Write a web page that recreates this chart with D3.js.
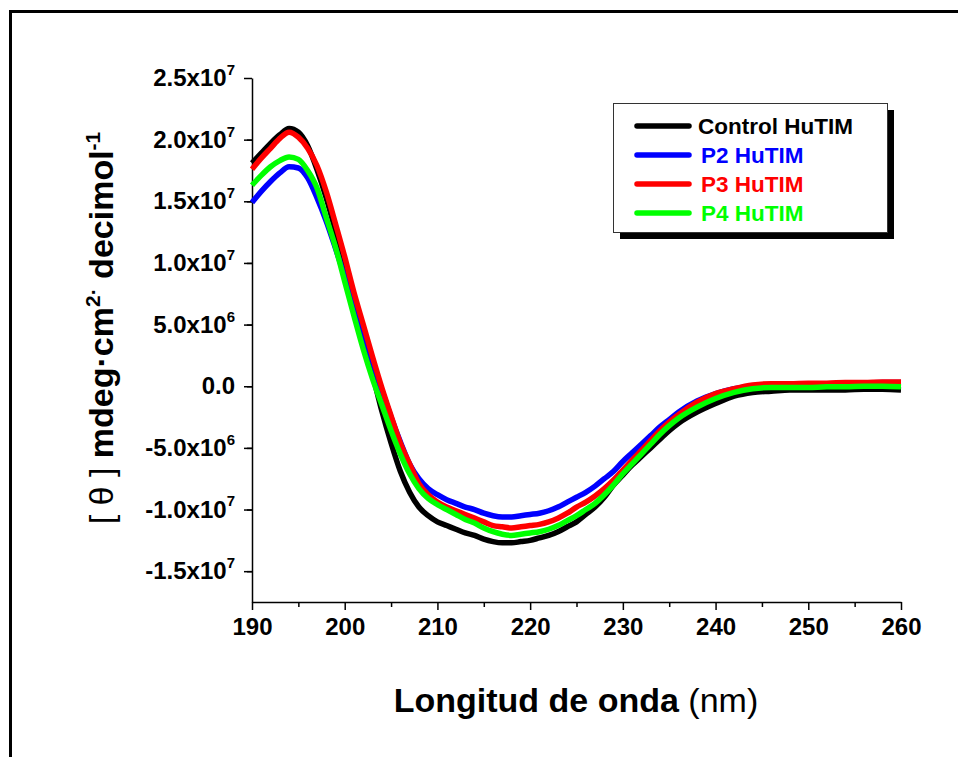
<!DOCTYPE html>
<html>
<head>
<meta charset="utf-8">
<script src="https://cdn.jsdelivr.net/npm/d3@7"></script>
<style>
  body { margin: 0; background: #fff; }
  svg { display: block; font-family: "Liberation Sans", Arial, sans-serif; }
</style>
</head>
<body>
<div id="chart"></div>
<script>
// wavelength (nm) and ellipticity in units of 1e6 mdeg·cm²·decimol⁻¹
var wavelength = [190,191,192,193,194,195,196,197,198,199,200,201,202,203,204,205,206,207,208,209,
  210,211,212,213,214,215,216,217,218,219,220,221,222,223,224,225,226,227,228,229,
  230,231,232,233,234,235,236,238,240,242,244,246,248,250,252,254,256,258,260];

var control = [18.1,18.9,19.7,20.4,20.9,20.6,19.5,17.6,15.3,12.6,9.7,6.8,3.9,1.0,-2.0,-4.6,-6.9,-8.6,-9.8,-10.5,
  -11.0,-11.3,-11.6,-11.9,-12.1,-12.4,-12.6,-12.7,-12.7,-12.6,-12.5,-12.3,-12.1,-11.8,-11.4,-11.0,-10.4,-9.8,-9.0,-8.0,
  -7.2,-6.4,-5.7,-5.0,-4.3,-3.6,-3.0,-2.1,-1.4,-0.8,-0.5,-0.4,-0.3,-0.3,-0.3,-0.3,-0.25,-0.25,-0.3];

var p2 = [14.9,15.8,16.6,17.3,17.8,17.7,16.9,15.3,13.4,11.2,8.9,6.6,4.3,2.0,-0.3,-2.5,-4.5,-6.3,-7.5,-8.3,
  -8.8,-9.2,-9.5,-9.8,-10.0,-10.3,-10.5,-10.6,-10.6,-10.5,-10.4,-10.3,-10.1,-9.8,-9.4,-9.0,-8.6,-8.1,-7.5,-6.9,
  -6.1,-5.4,-4.7,-4.0,-3.3,-2.7,-2.1,-1.2,-0.6,-0.2,0.0,0.1,0.15,0.2,0.2,0.2,0.25,0.3,0.3];

var p3 = [17.6,18.5,19.3,20.1,20.6,20.2,19.3,17.9,15.8,13.2,10.5,7.6,5.0,2.4,-0.1,-2.4,-4.6,-6.3,-7.9,-8.8,
  -9.4,-9.8,-10.1,-10.4,-10.7,-11.0,-11.3,-11.4,-11.5,-11.4,-11.3,-11.2,-11.0,-10.7,-10.3,-9.8,-9.4,-8.9,-8.3,-7.6,
  -6.8,-6.0,-5.2,-4.4,-3.6,-2.9,-2.3,-1.3,-0.6,-0.2,0.1,0.2,0.2,0.25,0.25,0.3,0.3,0.35,0.35];

var p4 = [16.3,17.1,17.8,18.3,18.6,18.4,17.5,16.1,13.7,11.3,8.5,5.7,3.0,0.6,-1.5,-3.6,-5.5,-7.1,-8.3,-9.1,
  -9.6,-10.0,-10.4,-10.8,-11.1,-11.5,-11.8,-12.0,-12.1,-12.0,-11.9,-11.8,-11.6,-11.3,-10.9,-10.5,-10.0,-9.5,-8.8,-8.0,
  -7.1,-6.3,-5.5,-4.7,-3.9,-3.2,-2.6,-1.7,-1.0,-0.5,-0.2,-0.1,-0.1,-0.1,-0.05,-0.05,0,0,-0.05];

var seriesNames = ["Control HuTIM","P2 HuTIM","P3 HuTIM","P4 HuTIM"];
var seriesColors = ["#000000","#0000ff","#ff0000","#00ff00"];
var seriesValues = [control, p2, p3, p4];

var xTicks = [190,200,210,220,230,240,250,260];
var yTicks = [-15,-10,-5,0,5,10,15,20,25];
var yTickMantissa = ["-1.5x10","-1.0x10","-5.0x10","0.0","5.0x10","1.0x10","1.5x10","2.0x10","2.5x10"];
var yTickExponent = ["7","7","6","","6","7","7","7","7"];

var W = 958, H = 757;
var svg = d3.select("#chart").append("svg").attr("width", W).attr("height", H);

svg.append("rect").attr("width", W).attr("height", H).attr("fill", "#fff");
// outer frame (open to the right and bottom)
svg.append("rect")
  .attr("x", 10.5).attr("y", 11.5).attr("width", 1000).attr("height", 900)
  .attr("fill", "none").attr("stroke", "#000").attr("stroke-width", 3);

var x = d3.scaleLinear().domain([190, 260]).range([252, 901]);
var y = d3.scaleLinear().domain([-17.5, 25]).range([602, 78]);

// minor ticks
svg.append("g").attr("transform", "translate(0,602)")
  .call(d3.axisBottom(x).tickValues(d3.range(195, 260, 10)).tickSize(5).tickFormat(""))
  .call(function(g){ g.select(".domain").remove(); g.selectAll("line").attr("stroke-width", 1.5); });
svg.append("g").attr("transform", "translate(252,0)")
  .call(d3.axisLeft(y).tickValues(d3.range(-17.5, 25, 5).map(function(v){ return v + 2.5; }).filter(function(v){ return v < 25; })).tickSize(5).tickFormat(""))
  .call(function(g){ g.select(".domain").remove(); g.selectAll("line").attr("stroke-width", 1.5); });

// x axis
var xAxis = svg.append("g").attr("transform", "translate(0,602)")
  .call(d3.axisBottom(x).tickValues(xTicks).tickSize(8).tickSizeOuter(0).tickPadding(8));
xAxis.select(".domain").attr("stroke-width", 1.5);
xAxis.selectAll("line").attr("stroke-width", 1.5);
xAxis.selectAll("text").attr("font-size", 24).attr("font-weight", "bold")
  .attr("font-family", "Liberation Sans, Arial, sans-serif").attr("fill", "#000");

// y axis
var yAxis = svg.append("g").attr("transform", "translate(252,0)")
  .call(d3.axisLeft(y).tickValues(yTicks).tickSize(8).tickSizeOuter(0).tickPadding(9));
yAxis.select(".domain").attr("stroke-width", 1.5);
yAxis.selectAll("line").attr("stroke-width", 1.5);
yAxis.selectAll(".tick text").each(function(d, i){
  var t = d3.select(this).text("")
    .attr("font-size", 24).attr("font-weight", "bold")
    .attr("font-family", "Liberation Sans, Arial, sans-serif").attr("fill", "#000");
  t.append("tspan").text(yTickMantissa[i]);
  if (yTickExponent[i]) {
    t.append("tspan").attr("font-size", 15).attr("dy", "-0.75em").text(yTickExponent[i]);
  }
});

// curves
var line = d3.line()
  .x(function(d){ return x(d[0]); })
  .y(function(d){ return y(d[1]); })
  .curve(d3.curveMonotoneX);

svg.append("g").selectAll("path")
  .data(seriesValues)
  .enter().append("path")
  .attr("d", function(vals){ return line(wavelength.map(function(w, i){ return [w, vals[i]]; })); })
  .attr("fill", "none")
  .attr("stroke", function(d, i){ return seriesColors[i]; })
  .attr("stroke-width", 5.5)
  .attr("stroke-linejoin", "round");

// axis titles
svg.append("text")
  .attr("x", 576).attr("y", 712).attr("text-anchor", "middle")
  .attr("font-size", 34).attr("fill", "#000")
  .call(function(t){
    t.append("tspan").attr("font-weight", "bold").text("Longitud de onda");
    t.append("tspan").text(" (nm)");
  });

svg.append("text")
  .attr("transform", "translate(113,328) rotate(-90)")
  .attr("text-anchor", "middle")
  .attr("font-size", 34).attr("fill", "#000")
  .call(function(t){
    t.append("tspan").text("[ \u03b8 ] ");
    t.append("tspan").attr("font-weight", "bold").text("mdeg\u00b7cm");
    t.append("tspan").attr("font-weight", "bold").attr("font-size", 21).attr("dy", -13).text("2\u00b7");
    t.append("tspan").attr("font-weight", "bold").attr("dy", 13).text(" decimol");
    t.append("tspan").attr("font-weight", "bold").attr("font-size", 21).attr("dy", -13).text("-1");
  });

// legend
var legend = svg.append("g").attr("transform", "translate(613,103)");
legend.append("rect").attr("x", 7).attr("y", 7).attr("width", 274).attr("height", 129).attr("fill", "#000");
legend.append("rect").attr("x", 0.5).attr("y", 0.5).attr("width", 274).attr("height", 129)
  .attr("fill", "#fff").attr("stroke", "#333").attr("stroke-width", 1);

var rows = legend.selectAll("g.row").data(seriesNames).enter().append("g")
  .attr("class", "row")
  .attr("transform", function(d, i){ return "translate(0," + (23 + i * 29) + ")"; });
rows.append("line").attr("x1", 24).attr("x2", 76).attr("y1", 0).attr("y2", 0)
  .attr("stroke", function(d, i){ return seriesColors[i]; })
  .attr("stroke-width", 5.5).attr("stroke-linecap", "round");
rows.append("text")
  .attr("x", function(d, i){ return i === 0 ? 85 : 88; }).attr("y", 8)
  .attr("font-size", 22.5).attr("font-weight", "bold")
  .attr("fill", function(d, i){ return seriesColors[i]; })
  .text(function(d){ return d; });
</script>
</body>
</html>
